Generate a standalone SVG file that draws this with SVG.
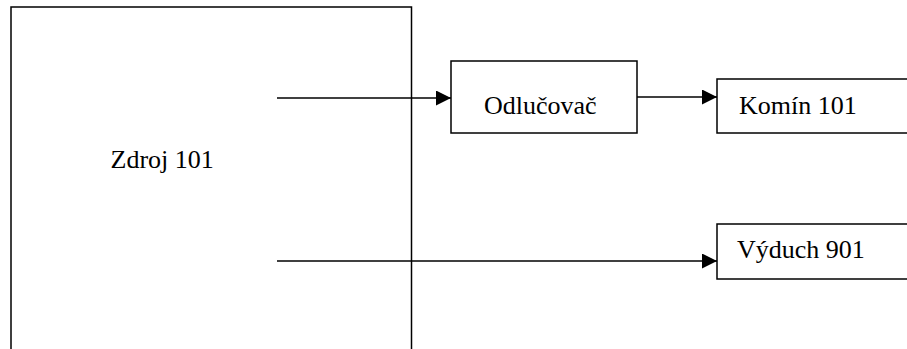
<svg xmlns="http://www.w3.org/2000/svg" width="907" height="349" viewBox="0 0 907 349">
<defs>
<style>
.box{fill:#fff;stroke:#000;stroke-width:1.5}
.lbl{font-family:"Liberation Serif","Times New Roman",serif;font-size:26px;fill:#000}
.con{stroke:#000;stroke-width:1.5;fill:none}
</style>
<marker id="arr" markerUnits="userSpaceOnUse" markerWidth="16" markerHeight="16" refX="15" refY="7.5" orient="auto">
<path d="M0,0 L15,7.5 L0,15 Z" fill="#000"/>
</marker>
</defs>
<rect width="907" height="349" fill="#fff"/>
<g id="zdroj">
<rect class="box" x="11" y="7" width="400.5" height="360"/>
<text class="lbl" x="110.5" y="168">Zdroj 101</text>
</g>
<g id="odlucovac">
<rect class="box" x="451" y="61" width="186" height="72"/>
<text class="lbl" x="484" y="114">Odlučovač</text>
</g>
<g id="komin">
<rect class="box" x="717" y="79" width="210" height="54"/>
<text class="lbl" x="739" y="114">Komín 101</text>
</g>
<g id="vyduch">
<rect class="box" x="717" y="224" width="210" height="55"/>
<text class="lbl" x="737" y="258">Výduch 901</text>
</g>
<g id="connectors">
<line class="con" x1="277" y1="98" x2="451" y2="98" marker-end="url(#arr)"/>
<line class="con" x1="637" y1="97" x2="717" y2="97" marker-end="url(#arr)"/>
<line class="con" x1="277" y1="261" x2="717" y2="261" marker-end="url(#arr)"/>
</g>
</svg>
